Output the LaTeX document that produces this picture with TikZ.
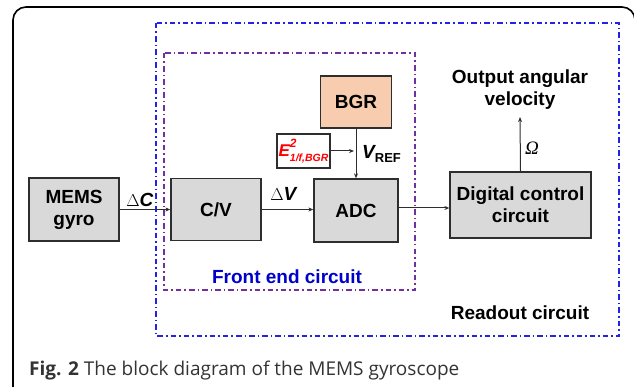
\documentclass[tikz,border=0pt]{standalone}
\usepackage{fontspec}
\setmainfont{Liberation Sans}
\newfontfamily\capfont{Open Sans}
\newfontfamily\serifit{Liberation Serif}
\usetikzlibrary{arrows.meta}
\definecolor{boxgray}{HTML}{D9D9D9}
\definecolor{peach}{HTML}{F8CDAF}
\definecolor{edgegray}{HTML}{2E2E2E}
\definecolor{readblue}{HTML}{2323E6}
\definecolor{frontpurple}{HTML}{7030A0}
\definecolor{labelblue}{HTML}{0000CC}
\definecolor{noisered}{HTML}{FF0000}
\definecolor{capgray}{HTML}{333333}
\tikzset{
  blk/.style={draw=edgegray, line width=1.3pt, fill=boxgray, align=center,
    inner sep=0pt, font=\fontsize{19}{22}\selectfont\bfseries},
  sig/.style={line width=1pt, draw=edgegray, -{Stealth[length=5pt,width=4pt]}},
  lbl/.style={inner sep=0pt, align=center, font=\fontsize{19}{22}\selectfont\bfseries},
  dashdot/.style={line width=1.4pt, dash pattern=on 5.5pt off 3pt on 1.6pt off 3pt}
}
\begin{document}
\begin{tikzpicture}[x=1pt,y=-1pt]
\useasboundingbox (0,0) rectangle (634,387);
% outer frame, open at the bottom
\draw[line width=1.6pt, rounded corners=13pt] (13,388) -- (13,7) -- (635,7) -- (635,40);
% readout and front end regions
\draw[dashdot, readblue] (156,23) rectangle (619,336);
\draw[dashdot, frontpurple] (164,53) rectangle (415,290);
% blocks
\node[blk, minimum width=90pt, minimum height=63pt] (mems) at (74,209.5) {MEMS\\gyro};
\node[blk, minimum width=90pt, minimum height=62pt] (cv) at (216,209.5) {C/V};
\node[blk, minimum width=84pt, minimum height=63pt] (adc) at (356,210.5) {ADC};
\node[blk, fill=peach, minimum width=71pt, minimum height=52pt] (bgr) at (356,102) {BGR};
\node[blk, fill=white, minimum width=53pt, minimum height=34pt] (noise) at (303.5,151)
  {\color{noisered}\fontsize{17}{17}\selectfont\itshape E\rlap{\raisebox{1.0ex}{\fontsize{12}{12}\selectfont 2}}%
   \raisebox{-0.5ex}{\fontsize{10.5}{10.5}\selectfont 1/f,BGR}};
\node[blk, minimum width=141pt, minimum height=66pt] (dig) at (520.5,205) {Digital control\\circuit};
% output label
\node[lbl, anchor=south] (out) at (520,110) {Output angular\\velocity};
\coordinate (outtip) at (520,117);
\coordinate (vline) at (354,151);
% connectors
\draw[sig] (mems.east |- 0,209.5) -- (cv.west |- 0,209.5);
\draw[sig] (cv.east |- 0,209.5) -- (adc.west |- 0,209.5);
\draw[sig] (bgr.south) -- (adc.north);
\draw[sig] (noise.east) -- (vline);
\draw[sig] (adc.east |- 0,208) -- (dig.west |- 0,208);
\draw[sig] (dig.north) -- (outtip);
% signal labels
\node[inner sep=0pt, font=\fontsize{19}{19}\selectfont] (dc) at (140,200) {$\Delta$\textbf{\itshape C}};
\node[inner sep=0pt, font=\fontsize{19}{19}\selectfont] (dv) at (284,194) {$\Delta$\textbf{\itshape V}};
\node[inner sep=0pt, font=\fontsize{19}{19}\selectfont\bfseries, anchor=west] (vref) at (362,154)
  {\itshape V\upshape\raisebox{-0.45ex}{\fontsize{13}{13}\selectfont REF}};
\node[inner sep=0pt, font=\fontsize{19}{19}\selectfont\serifit\itshape] (om) at (532,148) {Ω};
% region labels
\node[lbl, text=labelblue] (fe) at (287,277) {Front end circuit};
\node[lbl] (ro) at (520,313) {Readout circuit};
% caption
\node[anchor=base west, inner sep=0pt, text=capgray, font=\capfont\fontsize{19}{21}\selectfont] (cap) at (29,375)
  {\textbf{Fig. 2} The block diagram of the MEMS gyroscope};
\end{tikzpicture}
\end{document}
